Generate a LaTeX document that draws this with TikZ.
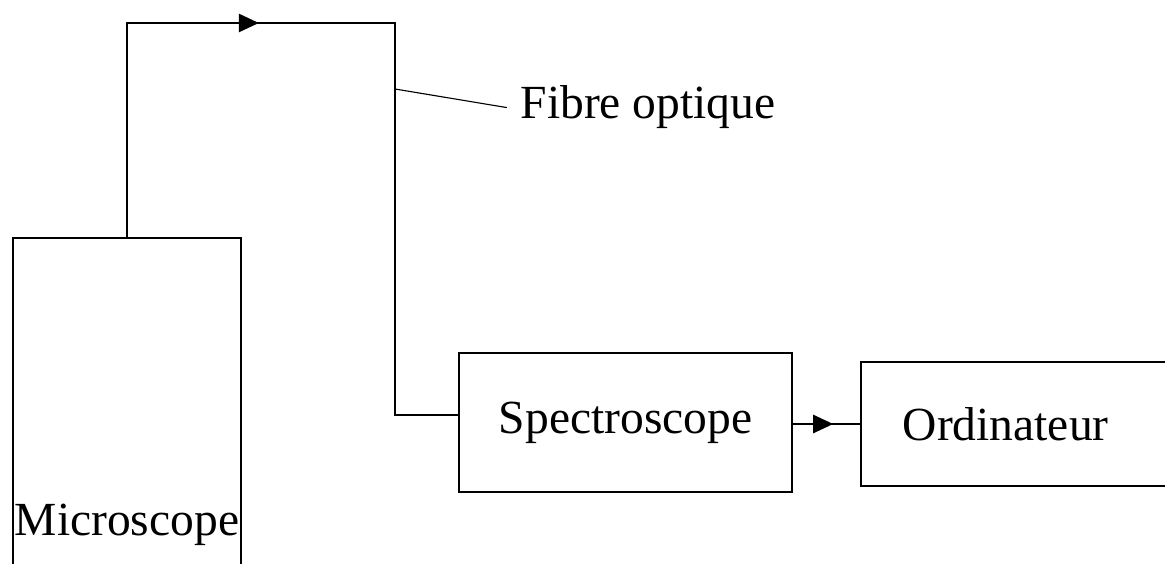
\documentclass[tikz,border=0pt]{standalone}
\usepackage{fontspec}
\setmainfont{Liberation Serif}
\usetikzlibrary{arrows.meta, positioning, decorations.markings}

\begin{document}
\begin{tikzpicture}[
    >=Stealth,
    line width=1.1pt,
    block/.style={
        draw=black,
        line width=1.1pt,
        rectangle,
        inner sep=0pt,
        font=\fontsize{33.8}{40}\selectfont
    },
    lbl/.style={font=\fontsize{33.8}{40}\selectfont, inner sep=0pt},
    midarrow/.style={
        postaction={decorate},
        decoration={markings, mark=at position #1 with {\arrow{Triangle[length=0.5cm, width=0.46cm]}}}
    }
]

\clip (0,0) rectangle (29.125,14.075);

\node[block, minimum width=5.7cm, minimum height=9.125cm] (micro) at (3.175,3.5625) {};
\node[lbl, anchor=base] (microtxt) at (3.175,0.7) {Microscope};
\node[block, minimum width=8.325cm, minimum height=3.475cm] (spectro) at (15.6375,3.5125) {Spectroscope};
\node[block, anchor=west, minimum height=3.1cm, text width=6cm, inner xsep=1.05cm, align=left] (ordi) at (21.5,3.475) {Ordinateur};

% fibre optique
\coordinate (topL) at (3.175,13.5);
\coordinate (topR) at (9.875,13.5);
\coordinate (botR) at (9.875,3.7);
\coordinate (tap) at (9.875,11.85);
\draw[midarrow=8.65cm] (micro.north) -- (topL) -- (topR) -- (botR) -- (spectro.west |- botR);

% spectroscope -> ordinateur
\draw[midarrow=0.6] (spectro.east |- ordi.west) -- (ordi.west);

% label
\node[lbl, anchor=base west] (fibre) at (13.0,11.1) {Fibre optique};
\draw[line width=0.8pt] (tap) -- ([xshift=-0.33cm]fibre.west);

\end{tikzpicture}
\end{document}
